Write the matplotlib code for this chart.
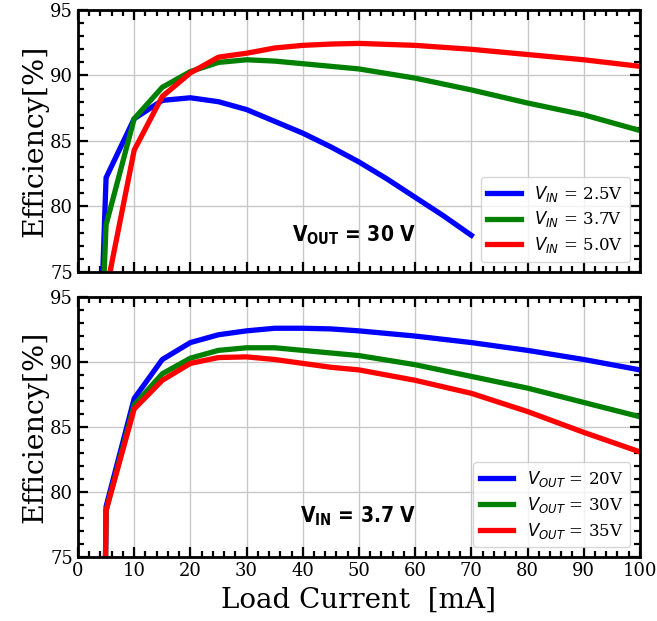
import matplotlib
matplotlib.use("Agg")
import matplotlib.pyplot as plt
from matplotlib.ticker import MultipleLocator

plt.rcParams['font.family'] = 'DejaVu Serif'
plt.rcParams['mathtext.fontset'] = 'custom'
plt.rcParams['mathtext.rm'] = 'DejaVu Sans'
plt.rcParams['mathtext.it'] = 'DejaVu Sans:italic'
plt.rcParams['mathtext.bf'] = 'DejaVu Sans:weight=bold:stretch=condensed'

# top panel: VOUT = 30 V, different input voltages
vin_x = {
	'2.5': [4, 5, 10, 15, 20, 25, 30, 35, 40, 45, 50, 55, 60, 65, 70],
	'3.7': [4, 5, 10, 15, 20, 25, 30, 35, 40, 45, 50, 60, 70, 80, 90, 100],
	'5.0': [5, 10, 15, 20, 25, 30, 35, 40, 45, 50, 60, 70, 80, 90, 100],
}
vin_eff = {
	'2.5': [70.0, 82.2, 86.7, 88.1, 88.3, 88.0, 87.4, 86.5, 85.6, 84.55, 83.4, 82.1, 80.7, 79.3, 77.8],
	'3.7': [68.0, 78.6, 86.7, 89.1, 90.3, 91.0, 91.2, 91.1, 90.9, 90.7, 90.5, 89.8, 88.9, 87.9, 87.0, 85.8],
	'5.0': [73.5, 84.3, 88.4, 90.2, 91.4, 91.7, 92.1, 92.3, 92.4, 92.45, 92.3, 92.0, 91.6, 91.2, 90.7],
}

# bottom panel: VIN = 3.7 V, different output voltages
vout_x = [4.5, 5, 10, 15, 20, 25, 30, 35, 40, 45, 50, 60, 70, 80, 90, 100]
vout_eff = {
	'20': [60.0, 78.9, 87.2, 90.2, 91.5, 92.1, 92.4, 92.6, 92.6, 92.55, 92.4, 92.0, 91.5, 90.9, 90.2, 89.4],
	'30': [60.0, 78.6, 86.7, 89.1, 90.3, 90.9, 91.1, 91.1, 90.9, 90.7, 90.5, 89.8, 88.9, 88.0, 86.9, 85.8],
	'35': [60.0, 78.6, 86.4, 88.6, 89.9, 90.35, 90.4, 90.2, 89.9, 89.6, 89.4, 88.6, 87.6, 86.2, 84.6, 83.1],
}

colors = ['blue', 'green', 'red']


def style_axes(ax):
	ax.set_xlim(0, 100)
	ax.set_ylim(75, 95)
	ax.xaxis.set_major_locator(MultipleLocator(10))
	ax.xaxis.set_minor_locator(MultipleLocator(2))
	ax.yaxis.set_major_locator(MultipleLocator(5))
	ax.yaxis.set_minor_locator(MultipleLocator(1))
	ax.tick_params(which='both', direction='in', top=True, right=True, width=1.6)
	ax.tick_params(which='major', length=7, labelsize=13)
	ax.tick_params(which='minor', length=4.5)
	ax.grid(True, which='major', color='#c8c8c8', linewidth=1)
	for spine in ax.spines.values():
		spine.set_linewidth(2)
	ax.set_ylabel('Efficiency[%]', fontsize=20.5, labelpad=1)


figure = plt.figure(figsize=(6.57, 6.21), dpi=100)
axes_top = figure.add_axes([0.1187, 0.562, 0.8553, 0.4219])
axes_bottom = figure.add_axes([0.1187, 0.1026, 0.8553, 0.4191])

note_font = dict(fontsize=15, fontweight='bold', fontstretch='condensed',
	family='DejaVu Sans', ha='left', va='baseline')

for key, color in zip(['2.5', '3.7', '5.0'], colors):
	axes_top.plot(vin_x[key], vin_eff[key], color=color, linewidth=3.8,
		label=r'$V_{IN}$ = %sV' % key)
style_axes(axes_top)
axes_top.tick_params(labelbottom=False)
axes_top.legend(loc='lower right', fontsize=12, handlelength=2.0, borderaxespad=0.6,
	labelspacing=0.35)
axes_top.text(38.0, 77.3, r'$\mathbf{V_{OUT}}$ = 30 V', **note_font)

for key, color in zip(['20', '30', '35'], colors):
	axes_bottom.plot(vout_x, vout_eff[key], color=color, linewidth=3.8,
		label=r'$V_{OUT}$ = %sV' % key)
style_axes(axes_bottom)
axes_bottom.legend(loc='lower right', fontsize=12, handlelength=2.0, borderaxespad=0.6,
	labelspacing=0.35)
axes_bottom.text(39.5, 77.7, r'$\mathbf{V_{IN}}$ = 3.7 V', **note_font)
axes_bottom.set_xlabel('Load Current  [mA]', fontsize=20, labelpad=5)

figure.savefig('out.png', dpi=100)
